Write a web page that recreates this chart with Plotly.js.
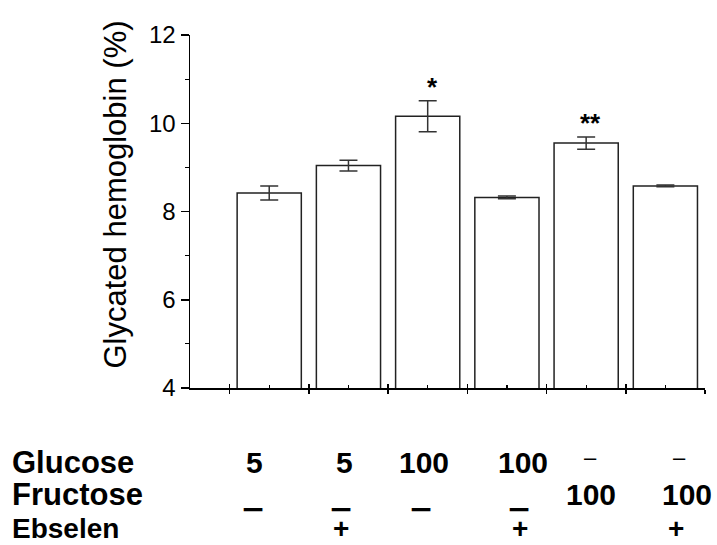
<!DOCTYPE html>
<html>
<head>
<meta charset="utf-8">
<script src="https://cdn.plot.ly/plotly-3.0.1.min.js"></script>
<style>html,body{margin:0;padding:0;background:#fff;}#chart{width:717px;height:545px;}</style>
</head>
<body>
<div id="chart"></div>
<script>
// ---- data ----
const groups = [1, 2, 3, 4, 5, 6];
const hba1c = [8.42, 9.04, 10.16, 8.32, 9.55, 8.58];
const hba1cErr = [0.16, 0.12, 0.35, 0.03, 0.14, 0.02];
const significance = ["", "", "*", "", "**", ""];
const glucoseRow = ["5", "5", "100", "100", "\u2013", "\u2013"];
const fructoseRow = ["_", "_", "_", "_", "100", "100"];
const ebselenRow = ["", "+", "", "+", "", "+"];
const rowNames = ["Glucose", "Fructose", "Ebselen"];
const yTicks = [4, 6, 8, 10, 12];
const yMinor = [5, 7, 9, 11];
const xMajor = [0.5, 1.5, 2.5, 3.5, 4.5, 5.5, 6.5];

// ---- layout helpers (positions, not data) ----
const FONT = "Liberation Sans, Arial, Helvetica, sans-serif";
const glucoseX = [0.82, 1.95, 2.95, 4.20, 5.06, 6.18];
const fructoseX = [0.80, 1.91, 2.92, 4.15, 5.06, 6.27];
const ebselenX = [0.80, 1.90, 2.92, 4.17, 5.06, 6.13];
const rowY = [-0.210, -0.303, -0.3994];
const lowDashBottom = -0.3541;

const annotations = [];
// significance stars
significance.forEach((s, i) => {
  if (!s) return;
  annotations.push({
    x: groups[i] + 0.06, y: hba1c[i] + hba1cErr[i], xref: 'x', yref: 'y',
    text: '<b>' + s + '</b>', showarrow: false, yanchor: 'bottom', yshift: -3,
    font: {family: FONT, size: 26, color: '#000'}
  });
});
// row names
rowNames.forEach((n, r) => {
  annotations.push({
    x: -0.345, y: rowY[r], xref: 'paper', yref: 'paper', xanchor: 'left', yanchor: 'middle',
    text: '<b>' + n + '</b>', showarrow: false, borderpad: 0, borderwidth: 0,
    font: {family: FONT, size: r === 2 ? 28 : 31, color: '#000'}
  });
});
// glucose row
glucoseRow.forEach((t, i) => {
  const isDash = t === "\u2013";
  annotations.push({
    x: glucoseX[i], y: isDash ? -0.196 : rowY[0], xref: 'x', yref: 'paper',
    xanchor: 'center', yanchor: 'middle', showarrow: false, borderpad: 0, borderwidth: 0,
    text: isDash ? t : '<b>' + t + '</b>',
    font: {family: FONT, size: isDash ? 22 : 30, color: '#000'}
  });
});
// fructose row
fructoseRow.forEach((t, i) => {
  const isDash = t === "_";
  annotations.push({
    x: fructoseX[i], y: isDash ? lowDashBottom : rowY[1], xref: 'x', yref: 'paper',
    xanchor: 'center', yanchor: isDash ? 'bottom' : 'middle', showarrow: false,
    borderpad: 0, borderwidth: 0,
    text: isDash ? '<span style="stroke:#000;stroke-width:2px">' + t + '</span>' : '<b>' + t + '</b>',
    font: {family: FONT, size: isDash ? 29 : 30, color: '#000', weight: isDash ? 'bold' : 'normal'}
  });
});
// ebselen row
ebselenRow.forEach((t, i) => {
  if (!t) return;
  annotations.push({
    x: ebselenX[i], y: rowY[2], xref: 'x', yref: 'paper',
    xanchor: 'center', yanchor: 'middle', showarrow: false, borderpad: 0, borderwidth: 0,
    text: '<b>' + t + '</b>',
    font: {family: FONT, size: 28, color: '#000'}
  });
});
// y axis title (placed as rotated text)
annotations.push({
  x: -0.145, y: 0.549, xref: 'paper', yref: 'paper', xanchor: 'center', yanchor: 'middle',
  textangle: -90, text: 'Glycated hemoglobin (%)', showarrow: false,
  font: {family: FONT, size: 31, color: '#000'}
});

const traces = [{
  type: 'bar', x: groups, y: hba1c, width: 0.81,
  marker: {color: '#ffffff', line: {color: '#222', width: 1.5}},
  error_y: {type: 'data', array: hba1cErr, visible: true, color: '#333', thickness: 1.5, width: 9},
  hoverinfo: 'y', showlegend: false
}, {
  type: 'scatter', x: [0.5], y: [4], xaxis: 'x2', yaxis: 'y', mode: 'markers',
  marker: {opacity: 0}, hoverinfo: 'skip', showlegend: false
}];

const layout = {
  width: 717, height: 545,
  margin: {l: 190, r: 12, t: 35, b: 157},
  paper_bgcolor: '#fff', plot_bgcolor: '#fff',
  showlegend: false,
  font: {family: FONT, color: '#000'},
  xaxis: {
    range: [0, 6.5], showgrid: false, zeroline: false,
    showline: true, linecolor: '#000', linewidth: 1.5,
    tickmode: 'array', tickvals: xMajor, ticks: 'outside', ticklen: 4, tickwidth: 1.5, tickcolor: '#000',
    showticklabels: false,
    minor: {tickmode: 'array', tickvals: groups, ticks: 'inside', ticklen: 3, tickwidth: 1.2, tickcolor: '#000', showgrid: false},
    fixedrange: true
  },
  xaxis2: {
    overlaying: 'x', anchor: 'y', side: 'bottom', range: [0, 6.5],
    showgrid: false, zeroline: false, showline: false,
    tickmode: 'array', tickvals: xMajor, ticks: 'inside', ticklen: 4, tickwidth: 1.5, tickcolor: '#000',
    showticklabels: false, fixedrange: true
  },
  yaxis: {
    range: [4, 12], showgrid: false, zeroline: false,
    showline: true, linecolor: '#000', linewidth: 1.5,
    tickmode: 'array', tickvals: yTicks, ticks: 'outside', ticklen: 8, tickwidth: 1.5, tickcolor: '#000',
    tickfont: {family: FONT, size: 24, color: '#000'},
    minor: {tickmode: 'array', tickvals: yMinor, ticks: 'outside', ticklen: 4, tickwidth: 1.2, tickcolor: '#000', showgrid: false},
    fixedrange: true
  },
  annotations: annotations
};

Plotly.newPlot('chart', traces, layout, {displayModeBar: false, staticPlot: true});
</script>
</body>
</html>
